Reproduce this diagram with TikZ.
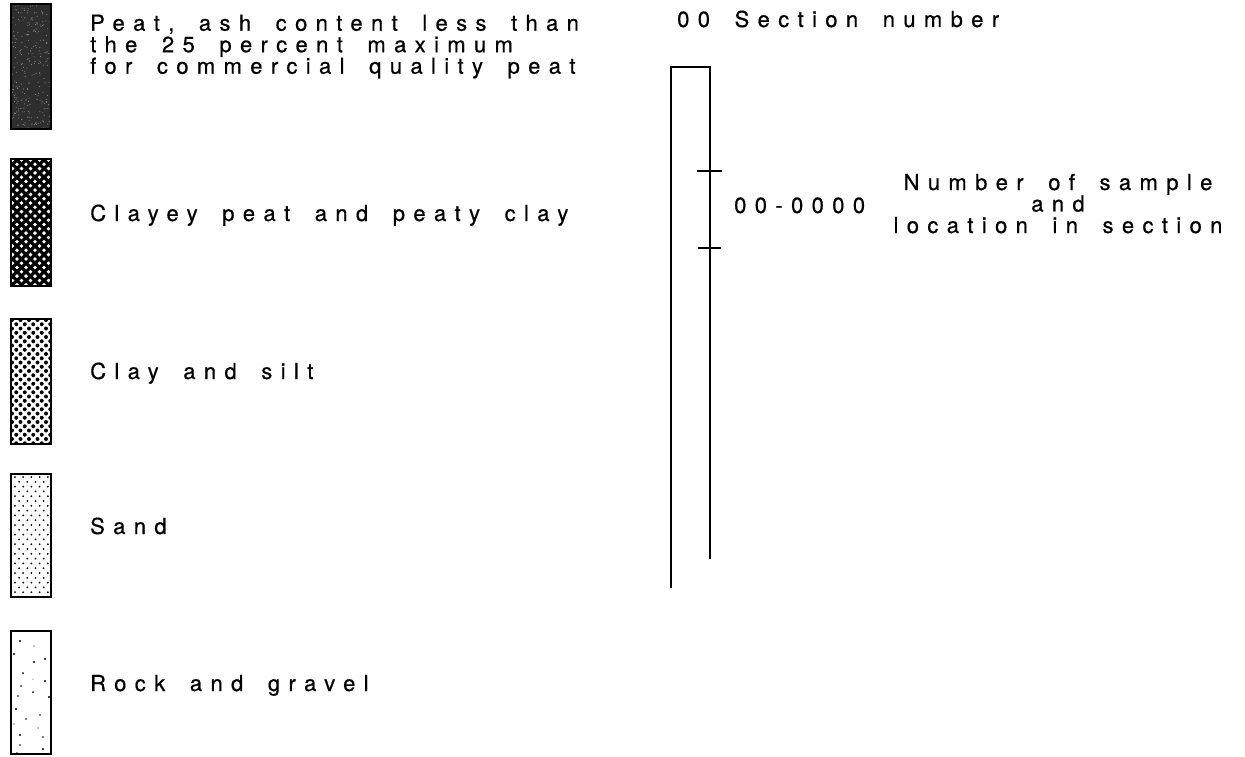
\documentclass[tikz,border=0pt]{standalone}
\usepackage{fontspec}
\setmainfont{TeX Gyre Heros}[LetterSpace=38,WordSpace=1.7,FakeBold=0.6]
\begin{document}
\begin{tikzpicture}[x=1pt,y=-1pt,
  every node/.style={inner sep=0pt, font=\fontsize{22}{21.5}\selectfont},
  legbox/.style={draw=black, line width=2.4pt},
  colline/.style={draw=black, line width=1.8pt},
  tick/.style={draw=black, line width=1.5pt}]
\useasboundingbox (0,0) rectangle (1245,757);

% --- Box 1: peat (dark, speckled)
\fill[black!82] (11,4) rectangle (51,129);
\pgfmathsetseed{7}
\foreach \i in {1,...,260}{
  \pgfmathsetmacro{\px}{11+40*rnd}
  \pgfmathsetmacro{\py}{4+125*rnd}
  \fill[white!55!black] (\px,\py) circle (0.55);
}
\draw[legbox] (11,4) rectangle (51,129);

% --- Box 2: clayey peat (black with white dots)
\begin{scope}
\clip (11,159) rectangle (51,286);
\fill[black] (11,159) rectangle (51,286);
\foreach \r in {0,...,30}{
  \pgfmathsetmacro{\yy}{160+\r*4.3}
  \pgfmathsetmacro{\xo}{mod(\r,2)*4.5}
  \foreach \c in {0,...,5}{
    \fill[white] (11+1.5+\xo+\c*9,\yy) circle (1.9);
  }
}
\end{scope}
\draw[legbox] (11,159) rectangle (51,286);

% --- Box 3: clay and silt (white with black dots)
\begin{scope}
\clip (11,319) rectangle (51,444);
\foreach \r in {0,...,30}{
  \pgfmathsetmacro{\yy}{320+\r*4.25}
  \pgfmathsetmacro{\xo}{mod(\r,2)*4.25}
  \foreach \c in {0,...,5}{
    \fill[black] (11+1+\xo+\c*8.5,\yy) circle (2.0);
  }
}
\end{scope}
\draw[legbox] (11,319) rectangle (51,444);

% --- Box 4: sand (fine dots)
\begin{scope}
\clip (11,474) rectangle (51,597);
\foreach \r in {0,...,26}{
  \pgfmathsetmacro{\yy}{477+\r*4.8}
  \pgfmathsetmacro{\xo}{mod(\r,2)*4.1}
  \foreach \c in {0,...,5}{
    \fill[black] (11+4+\xo+\c*8.2,\yy) circle (1.0);
  }
}
\end{scope}
\draw[legbox] (11,474) rectangle (51,597);

% --- Box 5: rock and gravel (sparse dots)
\foreach \px/\py/\rr in {20/641/1.1, 34/646/0.6, 14/654/1.1, 34/662/1.1, 45/659/1.2, 23/673/1.0,
  33/679/0.5, 45/681/1.2, 21/686/0.9, 33/692/1.0, 49/697/1.2, 18/696/0.8, 16/709/1.2,
  40/715/0.8, 26/719/0.9, 14/724/0.6, 38/728/0.7, 20/735/1.2, 43/737/0.9, 20/745/0.9, 43/749/1.2, 17/753/0.9}{
  \fill[black] (\px,\py) circle (\rr);
}
\draw[legbox] (11,631) rectangle (51,754);

% --- Legend texts (base anchor of a multi-line node = last line)
\node[anchor=base west, align=left] (peat) at (90,73.7)
  {Peat, ash content less than\\the 25 percent maximum\\for commercial quality peat};
\node[anchor=base west] (clayey) at (90,221) {Clayey peat and peaty clay};
\node[anchor=base west] (clay) at (90,379) {Clay and silt};
\node[anchor=base west] (sand) at (90,534) {Sand};
\node[anchor=base west] (rock) at (90,691) {Rock and gravel};

% --- Section column
\node[anchor=base west] (secnum) at (677,27) {00 Section number};
\coordinate (lb) at (671,588);
\coordinate (lt) at (671,67);
\coordinate (rt) at (710,67);
\coordinate (rb) at (710,559);
\draw[colline] (lb) -- (lt) -- (rt) -- (rb);
\coordinate (t1a) at (697,171);
\coordinate (t1b) at (722,171);
\coordinate (t2a) at (698,248);
\coordinate (t2b) at (721,248);
\draw[tick] (t1a) -- (t1b);
\draw[tick] (t2a) -- (t2b);
\node[anchor=base west] (sampnum) at (734,213) {00-0000};
\node[anchor=base, align=center] (samplbl) at (1058,233)
  {Number of sample\\and\\location in section};
\end{tikzpicture}
\end{document}
